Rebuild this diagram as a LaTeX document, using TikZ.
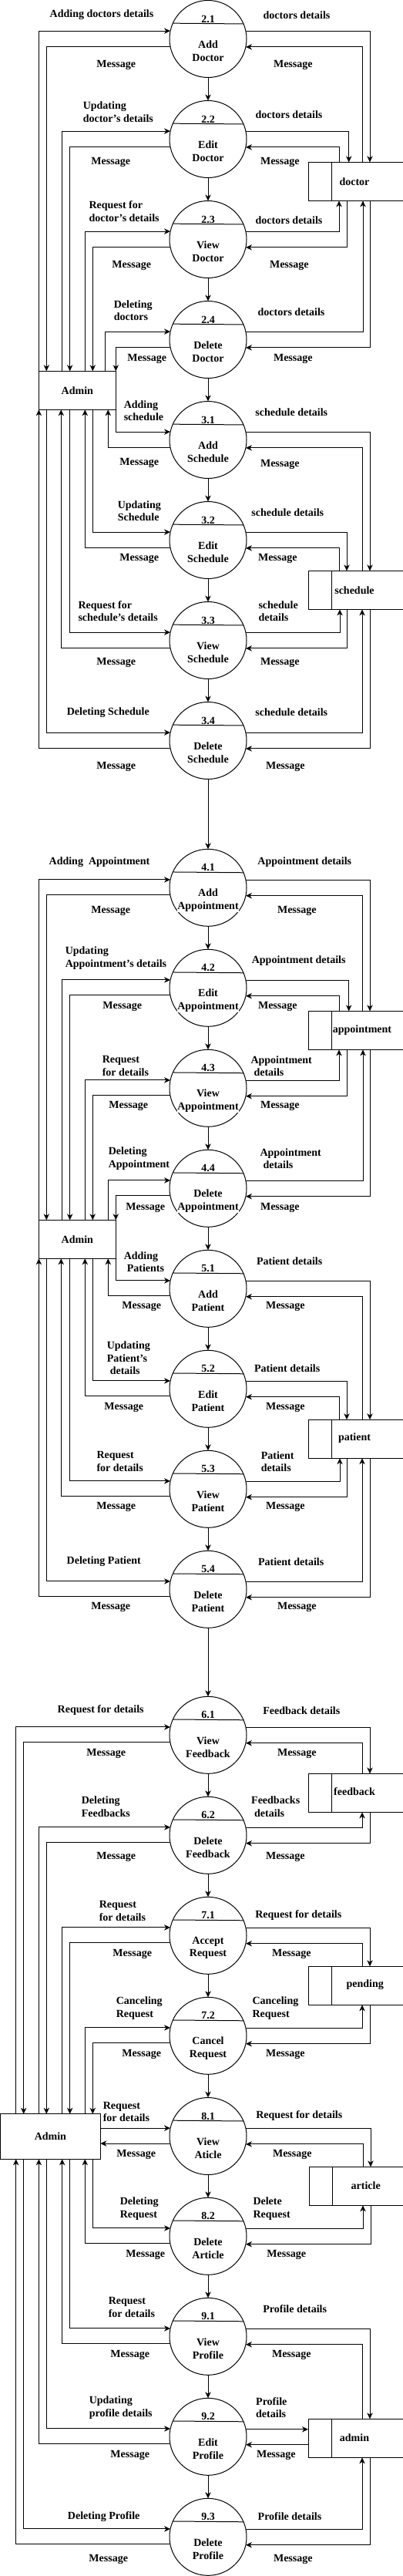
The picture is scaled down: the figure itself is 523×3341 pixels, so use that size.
\documentclass[tikz,border=0pt]{standalone}
\usepackage{fontspec}
\setmainfont{Liberation Serif}
\usetikzlibrary{calc,arrows.meta}
\newcommand\lblfont{\fontsize{10.5}{12.5}\selectfont\bfseries}
\tikzset{
 flow/.style={-{Stealth[length=6pt,width=5.5pt,inset=1.8pt]}},
 proc/.style={circle,draw,minimum size=75pt,inner sep=0pt,outer sep=0pt},
 store/.style={rectangle,minimum width=93.75pt,minimum height=37.5pt,inner sep=0pt,outer sep=0pt},
 ext/.style={rectangle,draw,inner sep=0pt,outer sep=0pt,font=\lblfont},
 lbl/.style={font=\lblfont,inner sep=0pt},
 lblL/.style={lbl,align=left,anchor=west},
 ptext/.style={lbl,align=center,fill=white,inner sep=0.5pt},
}
\newcommand\dfdproc[4]{%
 \node[proc] (#1) at (270,#2) {};
 \draw (#1.156.42) -- (#1.23.58);
 \node[lbl] at ($(#1.center)+(0,-26)$) {#3};
 \node[ptext] at ($(#1.center)+(0,16)$) {#4};
}
\newcommand\dfdstore[3]{%
 \node[store] (#1) at (#2,#3) {};
 \draw (#1.north east) -- (#1.north west) -- (#1.south west) -- (#1.south east);
 \draw ($(#1.north west)+(30,0)$) -- ($(#1.south west)+(30,0)$);
}
\newcommand\lin[4]{%
 \draw[flow] (#2 -| #3) |- (#1.168.46);
 \draw[flow] (#1.191.54) -| (#2 -| #4);
}
\newcommand\rout[4]{%
 \draw[flow] (#1.11.54) -| (#2 -| #3);
 \draw[flow] (#2 -| #4) |- (#1.348.46);
}
\begin{document}
\begin{tikzpicture}[x=0.75pt,y=-0.75pt,line width=0.75pt]
\fill[white] (0,0) rectangle (523,3341);
\useasboundingbox (0,0) rectangle (523,3341);
% columns
\coordinate (L20) at (20.7,0);
\coordinate (L30) at (30.7,0);
\coordinate (L50) at (50.4,0);
\coordinate (L60) at (60.3,0);
\coordinate (L79) at (79.3,0);
\coordinate (L80) at (80.7,0);
\coordinate (L90) at (90.7,0);
\coordinate (L110) at (110.3,0);
\coordinate (L120) at (120.3,0);
\coordinate (L136) at (136.3,0);
\coordinate (L140) at (140.3,0);
\coordinate (L150) at (150.3,0);
\coordinate (R440) at (440,0);
\coordinate (R441) at (441,0);
\coordinate (R450) at (450,0);
\coordinate (R453) at (452.7,0);
\coordinate (R470) at (470,0);
\coordinate (R471) at (471,0);
\coordinate (R480) at (480,0);
\coordinate (R481) at (481,0);
% processes
\dfdproc{p21}{50.5}{2.1}{Add\\Doctor}
\dfdproc{p22}{180.5}{2.2}{Edit\\Doctor}
\dfdproc{p23}{310.5}{2.3}{View\\Doctor}
\dfdproc{p24}{440.5}{2.4}{Delete\\Doctor}
\dfdproc{p31}{570.5}{3.1}{Add\\Schedule}
\dfdproc{p32}{700.5}{3.2}{Edit\\Schedule}
\dfdproc{p33}{830.5}{3.3}{View\\Schedule}
\dfdproc{p34}{960.5}{3.4}{Delete\\Schedule}
\dfdproc{p41}{1151.3}{4.1}{Add\\Appointment}
\dfdproc{p42}{1281.3}{4.2}{Edit\\Appointment}
\dfdproc{p43}{1411.3}{4.3}{View\\Appointment}
\dfdproc{p44}{1541.3}{4.4}{Delete\\Appointment}
\dfdproc{p51}{1671.3}{5.1}{Add\\Patient}
\dfdproc{p52}{1801.3}{5.2}{Edit\\Patient}
\dfdproc{p53}{1931.3}{5.3}{View\\Patient}
\dfdproc{p54}{2061.3}{5.4}{Delete\\Patient}
\dfdproc{p61}{2250.3}{6.1}{View\\Feedback}
\dfdproc{p62}{2380.3}{6.2}{Delete\\Feedback}
\dfdproc{p71}{2510.3}{7.1}{Accept\\Request}
\dfdproc{p72}{2640.3}{7.2}{Cancel\\Request}
\dfdproc{p81}{2770.5}{8.1}{View\\Aticle}
\dfdproc{p82}{2900.3}{8.2}{Delete\\Article}
\dfdproc{p91}{3030.3}{9.1}{View\\Profile}
\dfdproc{p92}{3160.3}{9.2}{Edit\\Profile}
\dfdproc{p93}{3290.3}{9.3}{Delete\\Profile}
% external entities
\node[ext,minimum width=75pt,minimum height=37.5pt] (adm1) at (100.35,506.3) {Admin};
\node[ext,minimum width=75pt,minimum height=37.5pt] (adm2) at (100.35,1607.3) {Admin};
\node[ext,minimum width=97.35pt,minimum height=43.95pt] (adm3) at (65.4,2771) {Admin};
% data stores
\dfdstore{ds1}{462.5}{235.4}
\dfdstore{ds2}{462.5}{765.4}
\dfdstore{ds3}{462.5}{1336.4}
\dfdstore{ds4}{462.5}{1866.2}
\dfdstore{ds5}{462.5}{2325.4}
\dfdstore{ds6}{462.5}{2575.3}
\dfdstore{ds7}{463.5}{2835.3}
\dfdstore{ds8}{462.5}{3162.3}
\node[lbl] (tds1) at (460,235.5) {doctor};
\node[lbl] (tds2) at (460,765.3) {schedule};
\node[lbl] (tds3) at (470,1335.7) {appointment};
\node[lbl] (tds4) at (460,1865.3) {patient};
\node[lbl] (tds5) at (460,2324) {feedback};
\node[lbl] (tds6) at (473.7,2574.3) {pending};
\node[lbl] (tds7) at (474.7,2834.3) {article};
\node[lbl] (tds8) at (460,3161.3) {admin};
% vertical chain
\foreach \a/\b in {p21/p22,p22/p23,p23/p24,p24/p31,p31/p32,p32/p33,p33/p34,p34/p41,
  p41/p42,p42/p43,p43/p44,p44/p51,p51/p52,p52/p53,p53/p54,p54/p61,
  p61/p62,p62/p71,p71/p72,p72/p81,p81/p82,p82/p91,p91/p92,p92/p93}
  \draw[flow] (\a.south) -- (\b.north);
% left flows
\lin{p21}{adm1.north}{L50}{L60}
\lin{p22}{adm1.north}{L80}{L90}
\lin{p23}{adm1.north}{L110}{L120}
\lin{p24}{adm1.north}{L136}{L150}
\lin{p31}{adm1.south}{L150}{L140}
\lin{p32}{adm1.south}{L120}{L110}
\lin{p33}{adm1.south}{L90}{L79}
\lin{p34}{adm1.south}{L60}{L50}
\lin{p41}{adm2.north}{L50}{L60}
\lin{p42}{adm2.north}{L80}{L90}
\lin{p43}{adm2.north}{L110}{L120}
\lin{p44}{adm2.north}{L140}{L150}
\lin{p51}{adm2.south}{L150}{L140}
\lin{p52}{adm2.south}{L120}{L110}
\lin{p53}{adm2.south}{L90}{L79}
\lin{p54}{adm2.south}{L60}{L50}
\lin{p61}{adm3.north}{L20}{L30}
\lin{p62}{adm3.north}{L50}{L60}
\lin{p71}{adm3.north}{L80}{L90}
\lin{p72}{adm3.north}{L110}{L120}
\draw[flow] (adm3.east |- p81.168.46) -- (p81.168.46);
\draw[flow] (p81.191.54) -- (adm3.east |- p81.191.54);
\lin{p82}{adm3.south}{L120}{L110}
\lin{p91}{adm3.south}{L90}{L80}
\lin{p92}{adm3.south}{L60}{L50}
\lin{p93}{adm3.south}{L30}{L20}
% right flows
\rout{p21}{ds1.north}{R480}{R470}
\rout{p22}{ds1.north}{R453}{R440}
\rout{p23}{ds1.south}{R440}{R450}
\rout{p24}{ds1.south}{R471}{R480}
\rout{p31}{ds2.north}{R480}{R470}
\rout{p32}{ds2.north}{R450}{R440}
\rout{p33}{ds2.south}{R441}{R450}
\rout{p34}{ds2.south}{R470}{R480}
\rout{p41}{ds3.north}{R480}{R470}
\rout{p42}{ds3.north}{R453}{R440}
\rout{p43}{ds3.south}{R440}{R450}
\rout{p44}{ds3.south}{R471}{R480}
\rout{p51}{ds4.north}{R480}{R470}
\rout{p52}{ds4.north}{R450}{R440}
\rout{p53}{ds4.south}{R441}{R450}
\rout{p54}{ds4.south}{R470}{R480}
\rout{p61}{ds5.north}{R480}{R470}
\rout{p62}{ds5.south}{R470}{R480}
\rout{p71}{ds6.north}{R480}{R470}
\rout{p72}{ds6.south}{R470}{R480}
\rout{p81}{ds7.north}{R481}{R471}
\rout{p82}{ds7.south}{R471}{R481}
\rout{p91}{ds8.north}{R480}{R470}
\draw[flow] (p92.11.54) -- (ds8.west |- p92.11.54);
\draw[flow] (ds8.west |- p92.348.46) -- (p92.348.46);
\rout{p93}{ds8.south}{R470}{R480}
% labels section 1
\node[lbl] at (132,19.3) {Adding doctors details};
\node[lbl] at (385,19.3) {doctors details};
\node[lbl] at (150.7,84.3) {Message};
\node[lbl] at (380.3,84.3) {Message};
\node[lblL] at (107.3,145) {Updating\\doctor's details};
\node[lbl] at (375,148.3) {doctors details};
\node[lbl] at (143.7,210.7) {Message};
\node[lbl] at (363.3,210.7) {Message};
\node[lblL] at (115,274) {Request for\\doctor's details};
\node[lbl] at (375,285.7) {doctors details};
\node[lbl] at (170.7,344.3) {Message};
\node[lbl] at (375.3,344.3) {Message};
\node[lblL] at (147.3,402.7) {Deleting\\doctors};
\node[lbl] at (378,404.3) {doctors details};
\node[lbl] at (190.7,465) {Message};
\node[lbl] at (380.3,465) {Message};
\node[lblL] at (160.3,532.7) {Adding\\schedule};
\node[lbl] at (378.3,534.3) {schedule details};
\node[lbl] at (180.7,600.3) {Message};
\node[lbl] at (363.3,602.3) {Message};
\node[lblL] at (152.3,662.7) {Updating\\Schedule};
\node[lbl] at (373.3,664.3) {schedule details};
\node[lbl] at (180.7,724.3) {Message};
\node[lbl] at (360.3,724.3) {Message};
\node[lblL] at (101,792.7) {Request for\\schedule's details};
\node[lblL] at (335,792.7) {schedule\\details};
\node[lbl] at (150.7,859.3) {Message};
\node[lbl] at (363.3,859.3) {Message};
\node[lbl] at (140.3,924) {Deleting Schedule};
\node[lbl] at (378.3,924) {schedule details};
\node[lbl] at (150.7,994.3) {Message};
\node[lbl] at (370.3,994.3) {Message};
% labels section 2
\node[lbl] at (129,1118.3) {Adding\ \ Appointment};
\node[lbl] at (395.3,1118.3) {Appointment details};
\node[lbl] at (143.7,1181.3) {Message};
\node[lbl] at (385.3,1181.3) {Message};
\node[lblL] at (84.3,1242.7) {Updating\\Appointment's details};
\node[lbl] at (387.7,1246) {Appointment details};
\node[lbl] at (158.7,1305.3) {Message};
\node[lbl] at (360.3,1305.3) {Message};
\node[lblL] at (132.3,1382.7) {Request\\for details};
\node[lblL] at (325,1382.7) {Appointment\\\hspace*{3pt}details};
\node[lbl] at (166.7,1434.3) {Message};
\node[lbl] at (363.3,1434.3) {Message};
\node[lblL] at (140.3,1502.7) {Deleting\\Appointment};
\node[lblL] at (337,1502.7) {Appointment\\\hspace*{3pt}details};
\node[lbl] at (188.7,1566.3) {Message};
\node[lbl] at (363.3,1566.3) {Message};
\node[lblL] at (160.3,1636.7) {Adding\\\hspace*{3pt}Patients};
\node[lbl] at (375.7,1635.3) {Patient details};
\node[lbl] at (183.7,1694.3) {Message};
\node[lbl] at (370.3,1694.3) {Message};
\node[lblL] at (138.3,1761.3) {Updating\\Patient's\\\hspace*{3pt}details};
\node[lbl] at (372.7,1774.3) {Patient details};
\node[lbl] at (160.7,1825.3) {Message};
\node[lbl] at (370.3,1825.3) {Message};
\node[lblL] at (125,1895.7) {Request\\for details};
\node[lblL] at (338.3,1895.7) {Patient\\details};
\node[lbl] at (150.7,1954) {Message};
\node[lbl] at (370.3,1954) {Message};
\node[lbl] at (134.7,2025.3) {Deleting Patient};
\node[lbl] at (377.7,2025.3) {Patient details};
\node[lbl] at (143.7,2084.3) {Message};
\node[lbl] at (385.3,2084.3) {Message};
% labels section 3
\node[lbl] at (130.7,2218.3) {Request for details};
\node[lbl] at (391.3,2218.3) {Feedback details};
\node[lbl] at (137.7,2274.3) {Message};
\node[lbl] at (385.3,2274.3) {Message};
\node[lblL] at (105.3,2343.3) {Deleting\\Feedbacks};
\node[lblL] at (325.7,2343.3) {Feedbacks\\\hspace*{3pt}details};
\node[lbl] at (150.7,2408.3) {Message};
\node[lbl] at (370.3,2408.3) {Message};
\node[lblL] at (128.3,2478.7) {Request\\for details};
\node[lbl] at (387.3,2484.3) {Request for details};
\node[lbl] at (171.7,2534.3) {Message};
\node[lbl] at (378.3,2534.3) {Message};
\node[lblL] at (150.3,2604.7) {Canceling\\Request};
\node[lblL] at (327,2604.7) {Canceling\\Request};
\node[lbl] at (183.7,2664.3) {Message};
\node[lbl] at (370.3,2664.3) {Message};
\node[lblL] at (133.3,2739) {Request\\for details};
\node[lbl] at (388.3,2744.3) {Request for details};
\node[lbl] at (176.7,2794.3) {Message};
\node[lbl] at (379.3,2794.3) {Message};
\node[lblL] at (155.3,2864.7) {Deleting\\Request};
\node[lblL] at (328,2864.7) {Delete\\Request};
\node[lbl] at (188.7,2924) {Message};
\node[lbl] at (371.7,2924) {Message};
\node[lblL] at (140.3,2992.5) {Request\\for details};
\node[lbl] at (382.7,2994.3) {Profile details};
\node[lbl] at (168.7,3054) {Message};
\node[lbl] at (378.3,3054) {Message};
\node[lblL] at (115.3,3122.7) {Updating\\profile details};
\node[lblL] at (331.7,3122.7) {Profile\\details};
\node[lbl] at (168.7,3184) {Message};
\node[lbl] at (358.3,3184) {Message};
\node[lbl] at (134.7,3264) {Deleting Profile};
\node[lbl] at (376,3264) {Profile details};
\node[lbl] at (140.7,3319.3) {Message};
\node[lbl] at (380.3,3319.3) {Message};
\end{tikzpicture}
\end{document}
